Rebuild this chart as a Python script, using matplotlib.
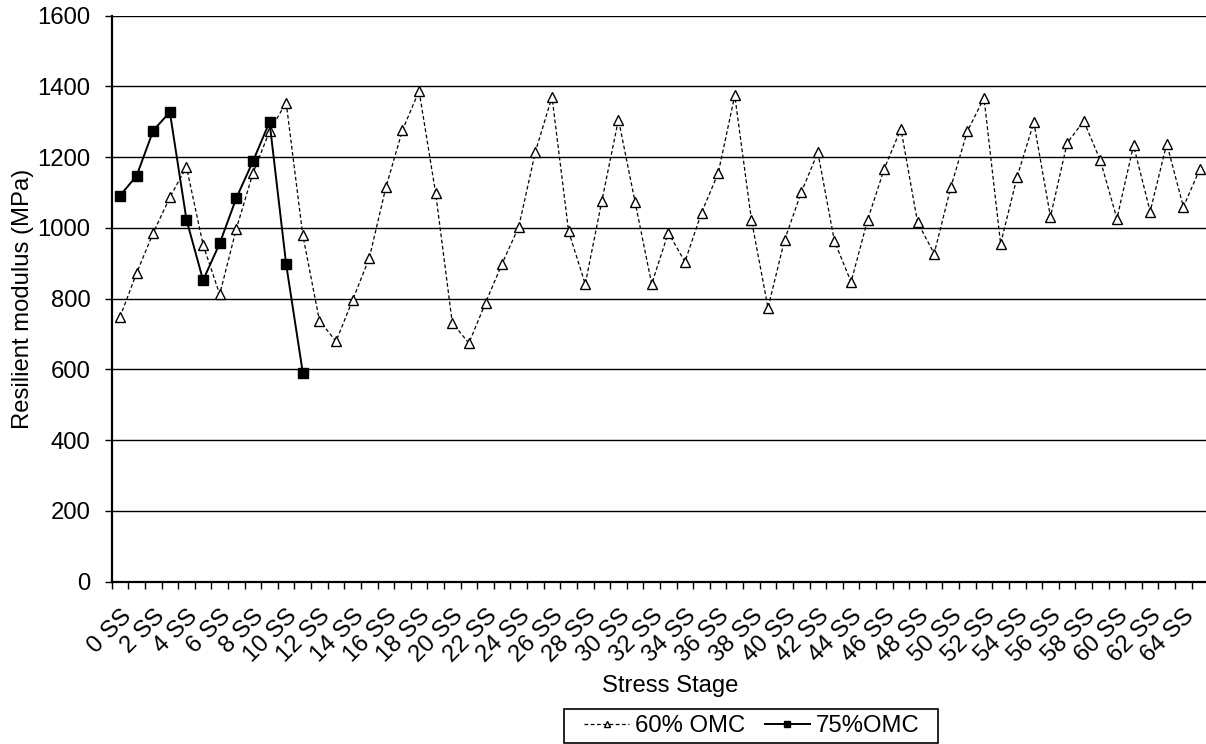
import numpy as np
import matplotlib
matplotlib.use("Agg")
import matplotlib.pyplot as plt
from matplotlib.patches import Rectangle

plt.rcParams['font.family'] = ['Liberation Sans', 'DejaVu Sans']

# data
stages = [f"{i} SS" for i in range(66)]
omc60 = [748, 872, 986, 1086, 1172, 952, 812, 997, 1154, 1273,
         1354, 980, 738, 679, 796, 914, 1114, 1276, 1387, 1097,
         731, 674, 788, 899, 1003, 1215, 1370, 990, 841, 1076,
         1306, 1073, 841, 986, 904, 1043, 1154, 1374, 1023, 774,
         966, 1100, 1213, 962, 847, 1023, 1167, 1280, 1016, 927,
         1114, 1273, 1367, 955, 1145, 1298, 1031, 1239, 1302, 1191,
         1026, 1233, 1046, 1238, 1059, 1167]
omc75 = [1091, 1147, 1275, 1327, 1023, 852, 956, 1084, 1188, 1299, 897, 591]
yticks = [0, 200, 400, 600, 800, 1000, 1200, 1400, 1600]

W, H = 1206, 744
fig = plt.figure(figsize=(W / 100, H / 100), dpi=100)
x0, x1 = 111.7, 1208.3
y0, y1 = 581.7, 15.5
ax = fig.add_axes([x0 / W, 1 - y0 / H, (x1 - x0) / W, (y0 - y1) / H])

fs = 17.2
xc60 = np.arange(len(omc60)) + 0.5
xc75 = np.arange(len(omc75)) + 0.5

ax.plot(xc60, omc60, color='black', lw=0.9, dashes=(3, 2),
        marker='^', ms=7, mfc='white', mec='black', mew=1.0, zorder=3)
ax.plot(xc75, omc75, color='black', lw=1.4,
        marker='s', ms=6.5, mfc='black', mec='black', zorder=4)

ax.set_xlim(0, len(stages))
ax.set_ylim(0, 1600)
ax.set_yticks(yticks)
ax.set_yticklabels([str(v) for v in yticks], fontsize=fs)
ax.yaxis.grid(True, color='black', lw=1.0)
ax.set_axisbelow(True)

# tick marks on category boundaries, labels on centres
ax.set_xticks(np.arange(len(stages) + 1))
ax.set_xticklabels([])
ax.set_xticks(np.arange(len(stages)) + 0.5, minor=True)
ax.set_xticklabels([s if i % 2 == 0 else '' for i, s in enumerate(stages)],
                   minor=True, rotation=45, ha='right', va='top',
                   rotation_mode='anchor', fontsize=fs)
ax.tick_params(axis='x', which='major', length=5, width=1, direction='out')
ax.tick_params(axis='x', which='minor', length=0, pad=17)
ax.tick_params(axis='y', length=5.3, width=1, direction='out', pad=10)

for side in ['top', 'right']:
    ax.spines[side].set_visible(False)
ax.spines['left'].set_linewidth(1.6)
ax.spines['bottom'].set_linewidth(1.6)

fig.text(23.5 / W, 1 - 298.6 / H, 'Resilient modulus (MPa)', rotation=90,
         ha='center', va='center', fontsize=fs)
fig.text(670 / W, 1 - 686 / H, 'Stress Stage', ha='center', va='center',
         fontsize=fs)

# legend with a hand drawn frame
h1, = ax.plot([], [], color='black', lw=0.9, dashes=(3, 2), marker='^', ms=5,
              mfc='white', mec='black')
h2, = ax.plot([], [], color='black', lw=1.4, marker='s', ms=5, mfc='black')
leg = fig.legend([h1, h2], ['60% OMC', '75%OMC'], loc='center left',
                 bbox_to_anchor=(584 / W, 1 - 726 / H), ncol=2, frameon=False,
                 fontsize=fs, handlelength=1.9, handletextpad=0.25,
                 columnspacing=0.8, borderpad=0, borderaxespad=0)
fig.patches.append(Rectangle((564 / W, 1 - 743 / H), (938 - 564) / W, (743 - 709) / H,
                             transform=fig.transFigure, fill=False,
                             edgecolor='black', lw=1.2))

fig.savefig('out.png', dpi=100)
